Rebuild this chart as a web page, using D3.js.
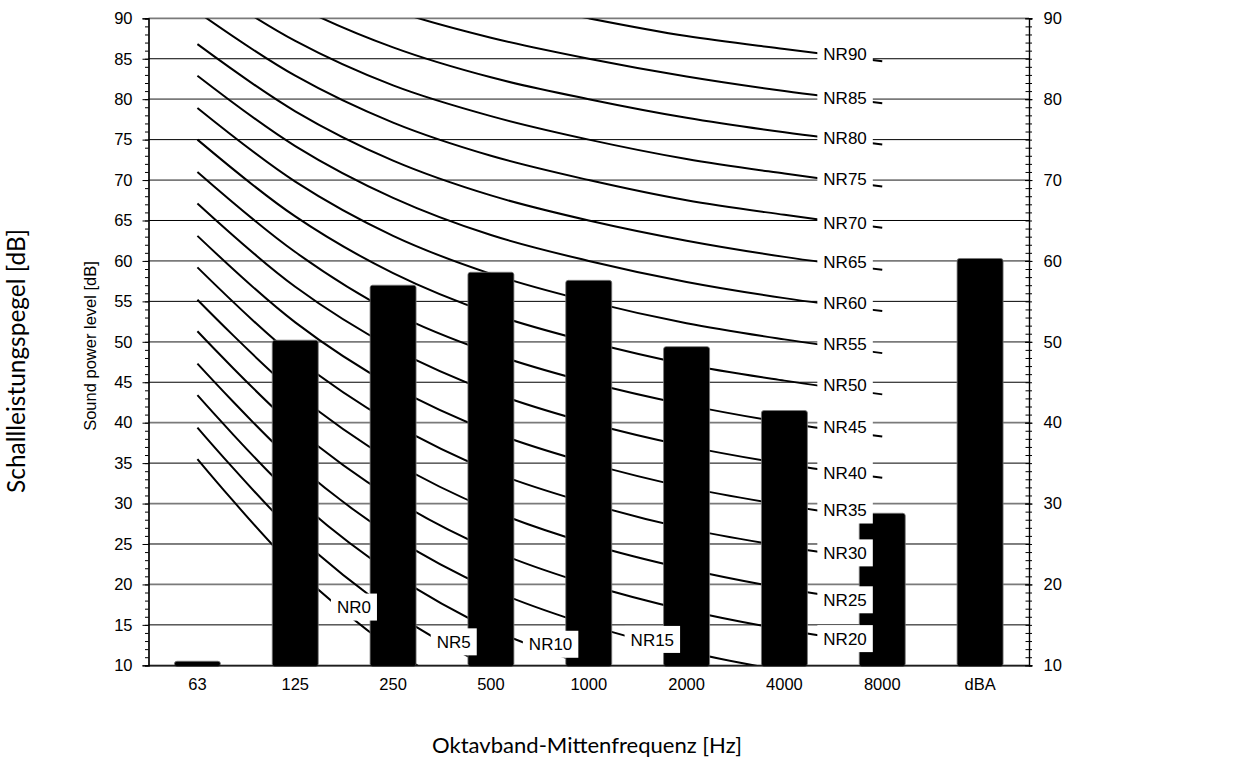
<!DOCTYPE html>
<html><head><meta charset="utf-8">
<script src="https://cdn.jsdelivr.net/npm/d3@7"></script>
<style>body{margin:0;background:#fff}svg{display:block}</style>
</head><body><svg id="c" width="1243" height="761"></svg>
<script>
// ---- data ----
const categories = ["63","125","250","500","1000","2000","4000","8000","dBA"];
const barValues  = [10.5, 50.2, 57.0, 58.6, 57.6, 49.4, 41.5, 28.8, 60.3];
const nrFreqs = ["63","125","250","500","1000","2000","4000","8000"];
const nrLevels = [0,5,10,15,20,25,30,35,40,45,50,55,60,65,70,75,80,85,90];
const nrCurves = [
  [35.5, 22.0, 12.0,  4.8,  0, -3.5, -6.1, -8.0],
  [39.4, 26.3, 16.6,  9.7,  5,  1.6, -1.0, -2.8],
  [43.4, 30.7, 21.3, 14.5, 10,  6.6,  4.2,  2.3],
  [47.3, 35.0, 25.9, 19.4, 15, 11.7,  9.3,  7.4],
  [51.3, 39.4, 30.6, 24.3, 20, 16.8, 14.4, 12.6],
  [55.2, 43.7, 35.2, 29.2, 25, 21.9, 19.5, 17.7],
  [59.2, 48.1, 39.9, 34.0, 30, 26.9, 24.7, 22.9],
  [63.1, 52.4, 44.5, 38.9, 35, 32.0, 29.8, 28.0],
  [67.1, 56.8, 49.2, 43.8, 40, 37.1, 34.9, 33.2],
  [71.0, 61.1, 53.6, 48.6, 45, 42.2, 40.0, 38.3],
  [75.0, 65.5, 58.5, 53.5, 50, 47.2, 45.2, 43.5],
  [78.9, 69.8, 63.1, 58.4, 55, 52.3, 50.3, 48.6],
  [82.9, 74.2, 67.8, 63.2, 60, 57.4, 55.4, 53.8],
  [86.8, 78.5, 72.4, 68.1, 65, 62.5, 60.5, 58.9],
  [90.8, 82.9, 77.1, 73.0, 70, 67.5, 65.7, 64.1],
  [94.7, 87.2, 81.7, 77.9, 75, 72.6, 70.8, 69.2],
  [98.7, 91.6, 86.4, 82.7, 80, 77.7, 75.9, 74.4],
  [102.6, 95.9, 91.0, 87.6, 85, 82.8, 81.0, 79.5],
  [106.6,100.3, 95.7, 92.5, 90, 87.8, 86.2, 84.7]
];
// label anchor: position in category units (index of band + fraction) and level in dB
const nrLabelPos = [1.60, 2.62, 3.61, 4.65, 6.62, 6.62, 6.62, 6.62, 6.62, 6.62, 6.62, 6.62, 6.62, 6.62, 6.62, 6.62, 6.62, 6.62, 6.62];
const nrLabelDb  = [17.2, 12.9, 12.6, 13.2, 13.3, 18.1, 23.9, 29.2, 33.8, 39.5, 44.7, 49.7, 54.8, 59.9, 64.7, 70.2, 75.2, 80.2, 85.6];
const yTicksLeft  = [10,15,20,25,30,35,40,45,50,55,60,65,70,75,80,85,90];
const yTicksRight = [10,20,30,40,50,60,70,80,90];
const yDomain = [10, 90];
const yTitleSmall = "Sound power level [dB]";
const yTitleBig = "Schallleistungspegel [dB]";
const xTitle = "Oktavband-Mittenfrequenz [Hz]";

// ---- layout ----
const L = 148.5, R = 1029, T = 18.3, B = 665.3;
const svg = d3.select("#c");
const x = d3.scaleBand().domain(categories).range([L, R]).paddingInner(0.53).paddingOuter(0.265);
const y = d3.scaleLinear().domain(yDomain).range([B, T]);
const step = x.step(), bw = x.bandwidth();
const cx = c => x(c) + bw / 2;
const posX = p => { const i = Math.floor(p); return cx(categories[i]) + (p - i) * step; };

svg.append("defs").append("clipPath").attr("id", "plot")
  .append("rect").attr("x", L).attr("y", T).attr("width", R - L).attr("height", B - T);

// gridlines
svg.append("g").selectAll("line").data(yTicksLeft).join("line")
  .attr("x1", L).attr("x2", R).attr("y1", d => y(d)).attr("y2", d => y(d))
  .attr("stroke", d => d % 10 === 0 ? "#7a7a7a" : "#000")
  .attr("stroke-width", d => d % 10 === 0 ? 1.8 : 1);

// NR curves
const line = d3.line().x((d, i) => cx(nrFreqs[i])).y(d => y(d)).curve(d3.curveCatmullRom.alpha(0.5));
svg.append("g").attr("clip-path", "url(#plot)").selectAll("path").data(nrCurves).join("path")
  .attr("d", d => line(d)).attr("fill", "none").attr("stroke", "#000").attr("stroke-width", 2);

// bars
svg.append("g").selectAll("rect").data(barValues).join("rect")
  .attr("x", (d, i) => x(categories[i])).attr("width", bw)
  .attr("y", d => y(d)).attr("height", d => y(yDomain[0]) - y(d) + 1)
  .attr("rx", 2.5).attr("fill", "#000").attr("stroke", "#777").attr("stroke-width", 0.8);

// NR labels
const lab = svg.append("g").attr("font-family", "Liberation Sans, Arial, sans-serif").attr("font-size", 17);
nrLevels.forEach((lv, i) => {
  const g = lab.append("g").attr("transform", `translate(${posX(nrLabelPos[i])},${y(nrLabelDb[i])})`);
  const rect = g.append("rect").attr("fill", "#fff");
  const t = g.append("text").attr("text-anchor", "middle").attr("dy", "0.36em").attr("fill", "#000").text("NR" + lv);
  const bb = t.node().getBBox();
  rect.attr("x", bb.x - 6).attr("y", -13.5).attr("width", bb.width + 12).attr("height", 27);
});

// left axis
const axFont = "Liberation Sans, Arial, sans-serif";
const leftMinor = d3.axisLeft(y).ticks(80).tickSize(3.5).tickFormat("");
const gl = svg.append("g").attr("transform", `translate(${L},0)`);
gl.append("g").call(d3.axisLeft(y).tickValues(d3.range(10, 91, 1)).tickSize(3.5).tickFormat(""));
gl.append("g").call(d3.axisLeft(y).tickValues(yTicksLeft).tickSize(6).tickPadding(10))
  .call(g => g.selectAll("text").attr("font-size", 16.5).attr("font-family", axFont).attr("fill", "#000"));
gl.selectAll(".domain").attr("stroke", "#000").attr("stroke-width", 1.2);
gl.selectAll(".tick line").attr("stroke", "#000");

// right axis
const gr = svg.append("g").attr("transform", `translate(${R},0)`);
gr.append("g").call(d3.axisRight(y).tickValues(d3.range(10, 91, 1)).tickSize(3).tickFormat(""))
  .call(g => g.selectAll(".tick line").attr("x1", -3.5));
gr.append("g").call(d3.axisRight(y).tickValues(yTicksRight).tickSize(3.5).tickPadding(11))
  .call(g => g.selectAll(".tick line").attr("x1", -4))
  .call(g => g.selectAll("text").attr("font-size", 16.5).attr("font-family", axFont).attr("fill", "#000"));
gr.selectAll(".domain").attr("stroke", "#000").attr("stroke-width", 1.2);
gr.selectAll(".tick line").attr("stroke", "#000");

// bottom axis
const gb = svg.append("g").attr("transform", `translate(0,${B})`);
gb.call(d3.axisBottom(x).tickSize(0).tickPadding(13))
  .call(g => g.selectAll("text").attr("font-size", 16.5).attr("font-family", axFont).attr("fill", "#000"));
gb.select(".domain").attr("stroke", "#000").attr("stroke-width", 1.2);

// titles
svg.append("text").attr("transform", "translate(96,346) rotate(-90)").attr("text-anchor", "middle")
  .attr("font-family", axFont).attr("font-size", 16.5).text(yTitleSmall);
const tFont = "Lato, 'Open Sans', sans-serif";
function fitText(sel, target) {
  const w = sel.node().getComputedTextLength();
  const fs = parseFloat(sel.attr("font-size"));
  sel.attr("font-size", fs * target / w);
}
const t1 = svg.append("text").attr("transform", "translate(25,361) rotate(-90)").attr("text-anchor", "middle")
  .attr("font-family", tFont).attr("font-size", 21).text(yTitleBig);
fitText(t1, 264);
const t2 = svg.append("text").attr("x", 587).attr("y", 753).attr("text-anchor", "middle")
  .attr("font-family", tFont).attr("font-size", 21).text(xTitle);
fitText(t2, 310);
</script></body></html>
